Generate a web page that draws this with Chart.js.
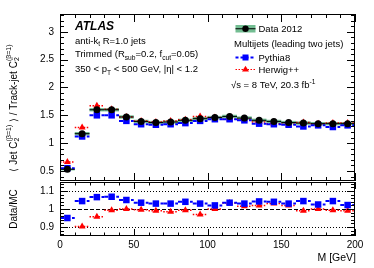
<!DOCTYPE html>
<html><head><meta charset="utf-8">
<script src="https://cdn.jsdelivr.net/npm/chart.js@4"></script>
<style>
html,body{margin:0;padding:0;background:#fff;}
#wrap{position:relative;width:374px;height:268px;}
canvas{position:absolute;left:0;top:0;}
</style>
</head><body>
<div id="wrap"><canvas id="cTop" width="374" height="268"></canvas><canvas id="cBot" width="374" height="268"></canvas></div>
<script>
// ---- data ----
const binEdges = [0,10,20,30,40,50,60,70,80,90,100,110,120,130,140,150,160,170,180,190,200];
const data2012 = [0.53,1.17,1.60,1.60,1.47,1.39,1.37,1.38,1.41,1.44,1.46,1.48,1.45,1.41,1.39,1.37,1.36,1.35,1.35,1.35];
const dataSyst = [0.02,0.03,0.03,0.03,0.03,0.03,0.03,0.03,0.03,0.03,0.03,0.03,0.03,0.03,0.03,0.03,0.03,0.03,0.03,0.03];
const pythia8 = [0.55,1.12,1.50,1.50,1.40,1.34,1.33,1.34,1.36,1.40,1.43,1.43,1.41,1.35,1.34,1.33,1.30,1.32,1.29,1.32];
const herwig = [0.66,1.28,1.67,1.61,1.47,1.40,1.38,1.40,1.42,1.48,1.46,1.43,1.43,1.38,1.35,1.34,1.37,1.35,1.36,1.36];
const ratioPythia = [0.95,1.044,1.066,1.068,1.05,1.035,1.03,1.03,1.04,1.03,1.02,1.035,1.03,1.042,1.04,1.03,1.044,1.025,1.044,1.022];
const ratioHerwig = [0.79,0.903,0.957,0.993,1.0,0.996,0.99,0.985,0.993,0.97,1.0,1.033,1.015,1.02,1.03,1.02,0.99,1.0,0.993,0.99];
const upperTicks = [0.5,1,1.5,2,2.5,3];
const lowerTicks = [0.9,1,1.1];
const xTicks = [0,50,100,150,200];

const FONT = '"Liberation Sans", Arial, Helvetica, sans-serif';
const BLUE = '#0000ff', RED = '#ff0000', GREEN = '#73bd92';
const centers = binEdges.slice(0,-1).map((e,i)=>(e+binEdges[i+1])/2);
const pts = arr => arr.map((v,i)=>({x:centers[i], y:v}));

function rich(ctx, x, y, parts, size, align){
  const sm = size*0.7;
  const widthOf = (t,s)=>{ctx.font = s+'px '+FONT; return ctx.measureText(t).width;};
  let w = 0;
  for (const [t,m] of parts){
    if (m==='bp') w += Math.max(widthOf(t[0],sm), widthOf(t[1],sm));
    else w += widthOf(t, m==='n'?size:sm);
  }
  let cx = align==='center'? x-w/2 : align==='right'? x-w : x;
  for (const [t,m] of parts){
    if (m==='bp'){
      ctx.font = sm+'px '+FONT;
      ctx.fillText(t[0], cx, y+size*0.3);
      ctx.fillText(t[1], cx, y-size*0.45);
      cx += Math.max(ctx.measureText(t[0]).width, ctx.measureText(t[1]).width);
    } else {
      const s = m==='n'?size:sm;
      ctx.font = s+'px '+FONT;
      const dy = m==='b'? size*0.3 : m==='p'? -size*0.4 : 0;
      ctx.fillText(t, cx, y+dy);
      cx += ctx.measureText(t).width;
    }
  }
  return w;
}

function drawFrameTicks(chart, o){
  const ctx = chart.ctx, a = chart.chartArea;
  const xs = chart.scales.x, ys = chart.scales.y;
  ctx.save();
  ctx.strokeStyle = '#000'; ctx.lineWidth = 1;
  ctx.strokeRect(a.left+0.5, a.top+0.5, a.right-a.left-1, a.bottom-a.top-1);
  ctx.beginPath();
  // x ticks
  for (let v = xs.min; v <= xs.max+1e-9; v += o.xMinor){
    const px = Math.round(xs.getPixelForValue(v))+0.5;
    const major = Math.abs(v/o.xMajor - Math.round(v/o.xMajor))<1e-6;
    const L = major? o.xMajLen : o.xMinLen;
    ctx.moveTo(px, a.bottom); ctx.lineTo(px, a.bottom-L);
    ctx.moveTo(px, a.top); ctx.lineTo(px, a.top+L);
  }
  // y ticks
  const start = Math.ceil(ys.min/o.yMinor - 1e-6)*o.yMinor;
  for (let v = start; v <= ys.max+1e-9; v += o.yMinor){
    const py = Math.round(ys.getPixelForValue(v))+0.5;
    const major = Math.abs(v/o.yMajor - Math.round(v/o.yMajor))<1e-4;
    const L = major? o.yMajLen : o.yMinLen;
    ctx.moveTo(a.left, py); ctx.lineTo(a.left+L, py);
    ctx.moveTo(a.right, py); ctx.lineTo(a.right-L, py);
  }
  ctx.stroke();
  ctx.restore();
}

function hLine(ctx, xs, ys, lo, hi, y, color, width, dash){
  ctx.save();
  ctx.strokeStyle = color; ctx.lineWidth = width; ctx.setLineDash(dash);
  ctx.beginPath();
  const py = ys.getPixelForValue(y);
  ctx.moveTo(xs.getPixelForValue(lo), py); ctx.lineTo(xs.getPixelForValue(hi), py);
  ctx.stroke(); ctx.restore();
}

const topPlugin = {
  id:'topPlugin',
  beforeDatasetsDraw(chart){
    const ctx = chart.ctx, xs = chart.scales.x, ys = chart.scales.y, a = chart.chartArea;
    ctx.save();
    ctx.beginPath(); ctx.rect(a.left, a.top, a.right-a.left, a.bottom-a.top); ctx.clip();
    for (let i=0;i<centers.length;i++){
      const lo = binEdges[i], hi = binEdges[i+1];
      const x0 = xs.getPixelForValue(lo), x1 = xs.getPixelForValue(hi);
      const y0 = ys.getPixelForValue(data2012[i]+dataSyst[i]), y1 = ys.getPixelForValue(data2012[i]-dataSyst[i]);
      ctx.fillStyle = GREEN; ctx.fillRect(x0, y0, x1-x0, y1-y0);
    }
    for (let i=0;i<centers.length;i++){
      const lo = binEdges[i], hi = binEdges[i+1];
      hLine(ctx, xs, ys, lo, hi, herwig[i], RED, 1.5, [1.5,1.5]);
      hLine(ctx, xs, ys, lo, hi, pythia8[i], BLUE, 2, [4,2]);
      hLine(ctx, xs, ys, lo, hi, data2012[i], '#000', 1, []);
    }
    ctx.restore();
  },
  afterDraw(chart){
    const ctx = chart.ctx;
    drawFrameTicks(chart, {xMinor:10, xMajor:50, xMajLen:8, xMinLen:4, yMinor:0.1, yMajor:0.5, yMajLen:8, yMinLen:4});
    ctx.save();
    ctx.fillStyle = '#000'; ctx.textBaseline = 'alphabetic';
    ctx.font = 'italic bold 12px '+FONT;
    ctx.fillText('ATLAS', 75, 29.5);
    rich(ctx, 75, 43.5, [['anti-k','n'],['t','b'],[' R=1.0 jets','n']], 9.5);
    rich(ctx, 75, 57, [['Trimmed (R','n'],['sub','b'],['=0.2, f','n'],['cut','b'],['=0.05)','n']], 9.5);
    rich(ctx, 75, 72, [['350 < p','n'],['T','b'],[' < 500 GeV, |η| < 1.2','n']], 9.5);
    // legend
    const xs = chart.scales.x;
    ctx.fillStyle = GREEN; ctx.fillRect(235.5, 25, 20, 7.5);
    ctx.strokeStyle = '#000'; ctx.lineWidth = 1; ctx.setLineDash([]);
    ctx.beginPath(); ctx.moveTo(235.5, 28.75); ctx.lineTo(255.5, 28.75); ctx.stroke();
    ctx.fillStyle = '#000'; ctx.beginPath(); ctx.arc(245.5, 28.75, 3.2, 0, Math.PI*2); ctx.fill();
    ctx.textBaseline = 'middle';
    rich(ctx, 258.5, 29, [['Data 2012','n']], 9.5);
    rich(ctx, 234, 44.5, [['Multijets (leading two jets)','n']], 9.5);
    ctx.strokeStyle = BLUE; ctx.lineWidth = 2; ctx.setLineDash([3,2]);
    ctx.beginPath(); ctx.moveTo(235.5, 57.5); ctx.lineTo(255.5, 57.5); ctx.stroke();
    ctx.setLineDash([]); ctx.fillStyle = BLUE; ctx.fillRect(242.5, 54.5, 6, 6);
    ctx.fillStyle = '#000';
    rich(ctx, 258.5, 58, [['Pythia8','n']], 9.5);
    ctx.strokeStyle = RED; ctx.lineWidth = 1.2; ctx.setLineDash([1.5,1.5]);
    ctx.beginPath(); ctx.moveTo(235.5, 69.5); ctx.lineTo(255.5, 69.5); ctx.stroke();
    ctx.setLineDash([]); ctx.fillStyle = RED;
    ctx.beginPath(); ctx.moveTo(245.5, 65.8); ctx.lineTo(249, 71.5); ctx.lineTo(242, 71.5); ctx.closePath(); ctx.fill();
    ctx.fillStyle = '#000';
    rich(ctx, 258.5, 70, [['Herwig++','n']], 9.5);
    ctx.textBaseline = 'alphabetic';
    const w = rich(ctx, 231, 88, [['√s = 8 TeV, 20.3 fb','n'],['-1','p']], 9.5);
    // y-axis title
    ctx.save();
    ctx.translate(14, 108); ctx.rotate(-Math.PI/2);
    ctx.textBaseline = 'middle';
    rich(ctx, 0, 0, [['⟨ Jet C','n'],[['2','(β=1)'],'bp'],[' ⟩ / Track-jet C','n'],[['2','(β=1)'],'bp']], 10, 'center');
    ctx.restore();
    ctx.restore();
  }
};

const botPlugin = {
  id:'botPlugin',
  beforeDatasetsDraw(chart){
    const ctx = chart.ctx, xs = chart.scales.x, ys = chart.scales.y, a = chart.chartArea;
    ctx.save();
    ctx.strokeStyle = '#000'; ctx.lineWidth = 1;
    const ref = (v, dash)=>{ ctx.setLineDash(dash); ctx.beginPath(); const py = Math.round(ys.getPixelForValue(v))+0.5; ctx.moveTo(a.left, py); ctx.lineTo(a.right, py); ctx.stroke(); };
    ref(1.1,[1,2]); ref(0.9,[1,2]); ref(1.0,[4,2]);
    ctx.beginPath(); ctx.rect(a.left, a.top, a.right-a.left, a.bottom-a.top); ctx.clip();
    for (let i=0;i<centers.length;i++){
      const lo = binEdges[i], hi = binEdges[i+1];
      hLine(ctx, xs, ys, lo, hi, ratioHerwig[i], RED, 1.5, [1.5,1.5]);
      hLine(ctx, xs, ys, lo, hi, ratioPythia[i], BLUE, 2, [4,2]);
    }
    ctx.restore();
  },
  afterDraw(chart){
    const ctx = chart.ctx;
    drawFrameTicks(chart, {xMinor:10, xMajor:50, xMajLen:7, xMinLen:3.5, yMinor:0.02, yMajor:0.1, yMajLen:8, yMinLen:4});
    ctx.save();
    ctx.fillStyle = '#000';
    ctx.font = '10.5px '+FONT; ctx.textAlign = 'right'; ctx.textBaseline = 'alphabetic';
    ctx.fillText('M [GeV]', 356, 261);
    ctx.translate(14, 209); ctx.rotate(-Math.PI/2);
    ctx.textAlign = 'center'; ctx.textBaseline = 'middle';
    ctx.font = '10px '+FONT;
    ctx.fillText('Data/MC', 0, 0);
    ctx.restore();
  }
};

const tickFont = {family: FONT, size: 10};
const fmt = v => String(Math.round(v*100)/100);

Chart.defaults.font.family = FONT;

new Chart(document.getElementById('cTop'), {
  type:'scatter',
  data:{datasets:[
    {label:'Data 2012', data:pts(data2012), pointStyle:'circle', pointRadius:3.5, backgroundColor:'#000', borderColor:'#000', borderWidth:0, clip:0},
    {label:'Pythia8', data:pts(pythia8), pointStyle:'rect', pointRadius:4.6, backgroundColor:BLUE, borderColor:BLUE, borderWidth:0, clip:0},
    {label:'Herwig++', data:pts(herwig), pointStyle:'triangle', pointRadius:4, backgroundColor:RED, borderColor:RED, borderWidth:0, clip:0}
  ]},
  options:{
    responsive:false, animation:false, devicePixelRatio:1,
    layout:{padding:{left:0, right:19, top:14, bottom:87}},
    plugins:{legend:{display:false}, tooltip:{enabled:false}},
    scales:{
      x:{type:'linear', min:0, max:200, display:false},
      y:{type:'linear', min:0.32, max:3.32,
         afterFit: s => { s.width = 60; },
         afterBuildTicks: s => { s.ticks = upperTicks.map(v=>({value:v})); },
         grid:{display:false, drawTicks:false}, border:{display:false},
         ticks:{font:tickFont, color:'#000', padding:6, callback:fmt}}
    }
  },
  plugins:[topPlugin]
});

new Chart(document.getElementById('cBot'), {
  type:'scatter',
  data:{datasets:[
    {label:'Pythia8', data:pts(ratioPythia), pointStyle:'rect', pointRadius:4.6, backgroundColor:BLUE, borderColor:BLUE, borderWidth:0, clip:0},
    {label:'Herwig++', data:pts(ratioHerwig), pointStyle:'triangle', pointRadius:4, backgroundColor:RED, borderColor:RED, borderWidth:0, clip:0}
  ]},
  options:{
    responsive:false, animation:false, devicePixelRatio:1,
    layout:{padding:{left:0, right:19, top:182, bottom:0}},
    plugins:{legend:{display:false}, tooltip:{enabled:false}},
    scales:{
      x:{type:'linear', min:0, max:200,
         afterFit: s => { s.height = 32; },
         afterBuildTicks: s => { s.ticks = xTicks.map(v=>({value:v})); },
         grid:{display:false, drawTicks:false}, border:{display:false},
         ticks:{font:tickFont, color:'#000', padding:3, maxRotation:0, callback:fmt}},
      y:{type:'linear', min:0.85, max:1.15,
         afterFit: s => { s.width = 60; },
         afterBuildTicks: s => { s.ticks = lowerTicks.map(v=>({value:v})); },
         grid:{display:false, drawTicks:false}, border:{display:false},
         ticks:{font:tickFont, color:'#000', padding:6, callback:fmt}}
    }
  },
  plugins:[botPlugin]
});
</script>
</body></html>
